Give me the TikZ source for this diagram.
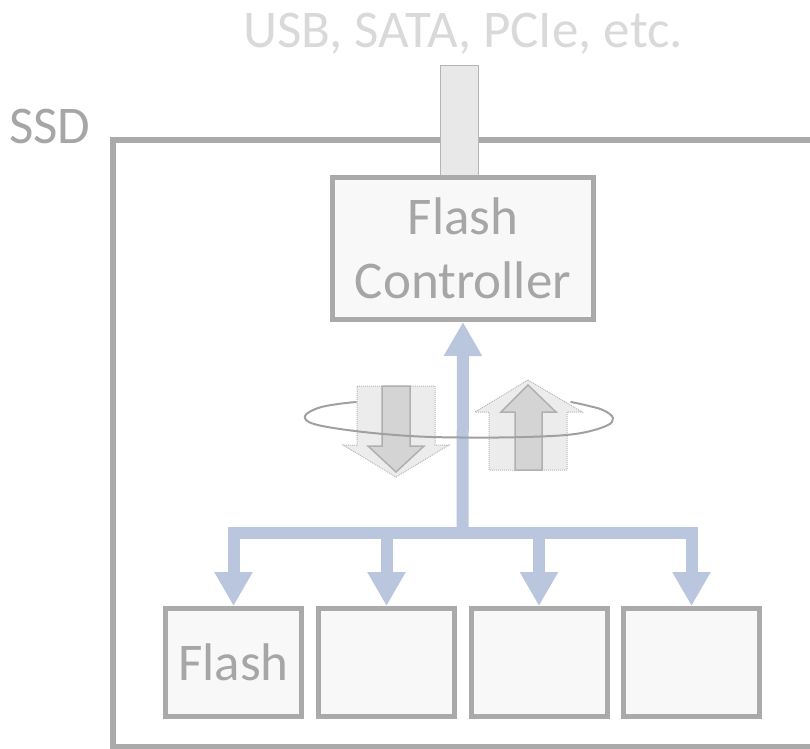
\documentclass[tikz,border=0pt]{standalone}
\usepackage{fontspec}
\setmainfont{Carlito}
\usetikzlibrary{arrows.meta}
\definecolor{boxgray}{HTML}{AAAAAA}
\definecolor{boxfill}{HTML}{F8F8F8}
\definecolor{txtgray}{HTML}{A6A6A6}
\definecolor{ltxt}{HTML}{D9D9D9}
\definecolor{busblue}{HTML}{B9C6DD}
\definecolor{barfill}{HTML}{E8E8E8}
\definecolor{barline}{HTML}{B5B5B5}
\definecolor{hollowfill}{HTML}{ECECEC}
\definecolor{hollowline}{HTML}{B8B8B8}
\definecolor{innerfill}{HTML}{D4D4D4}
\definecolor{innerline}{HTML}{B0B0B0}
\definecolor{ringgray}{HTML}{A0A0A0}
\tikzset{
  bigtext/.style={font=\fontsize{53}{64}\selectfont, text=txtgray},
  chipbox/.style={draw=boxgray, fill=boxfill, line width=5pt, inner sep=0pt},
  flashbox/.style={chipbox, minimum width=136pt, minimum height=108pt, bigtext},
  busline/.style={draw=busblue, line width=12pt},
  bustip/.style={-{Triangle[width=36pt,length=34pt]}},
  hollowarrow/.style={fill=hollowfill, draw=hollowline, line width=1pt, densely dotted},
  innerarrow/.style={fill=innerfill, draw=innerline, line width=1.5pt},
  ring/.style={draw=ringgray, line width=2pt, line cap=round}
}
\begin{document}
\begin{tikzpicture}[x=1pt,y=-1pt]
\useasboundingbox (0,0) rectangle (810,748);
% SSD enclosure
\draw[draw=boxgray, line width=6pt] (113,140) -- (113,747) -- (830,747) -- (830,140) -- cycle;
\node[bigtext, anchor=base] (ssdlabel) at (50,143) {SSD};
% interface
\node[bigtext, text=ltxt, anchor=base] (iface) at (463,47) {USB, SATA, PCIe, etc.};
\node[draw=barline, fill=barfill, line width=1pt, minimum width=38pt, minimum height=111pt, inner sep=0pt] (bar) at (459,120.5) {};
% controller
\node[chipbox, minimum width=261pt, minimum height=142pt, bigtext, align=center] (ctrl) at (463,248.5) {Flash\\Controller};
% flash chips
\node[flashbox] (f1) at (233.5,662.5) {Flash};
\node[flashbox] (f2) at (386.5,662.5) {};
\node[flashbox] (f3) at (539,662.5) {};
\node[flashbox] (f4) at (691.5,662.5) {};
% bus
\coordinate (j) at (462.5,533);
\coordinate (b1) at (233.5,533);
\coordinate (b2) at (386.5,533);
\coordinate (b3) at (539,533);
\coordinate (b4) at (691.5,533);
\draw[busline, line cap=rect] (b1) -- (b4);
\draw[busline, bustip] (j) -- (ctrl.south);
\draw[busline, bustip] (b1) -- (f1.north);
\draw[busline, bustip] (b2) -- (f2.north);
\draw[busline, bustip] (b3) -- (f3.north);
\draw[busline, bustip] (b4) -- (f4.north);
% hollow arrows
\draw[hollowarrow] (357,386) -- (435,386) -- (435,445) -- (449,445) -- (396,477) -- (343,445) -- (357,445) -- cycle;
\draw[innerarrow] (382,386) -- (410,386) -- (410,446) -- (424,446) -- (396,472) -- (368,446) -- (382,446) -- cycle;
\draw[hollowarrow] (528,380) -- (582,412) -- (567,412) -- (567,470) -- (489,470) -- (489,412) -- (475,412) -- cycle;
\draw[innerarrow] (528,385) -- (556,412) -- (542,412) -- (542,470) -- (515,470) -- (515,412) -- (501,412) -- cycle;
% ring
\draw[ring] plot[smooth, tension=0.6] coordinates {(356,402) (338,404) (318,408) (305,416) (314,424) (355,431) (410,436) (462,437.5) (525,437) (575,434) (606,426) (613,418) (603,410) (585,405) (571,402)};
\end{tikzpicture}
\end{document}
